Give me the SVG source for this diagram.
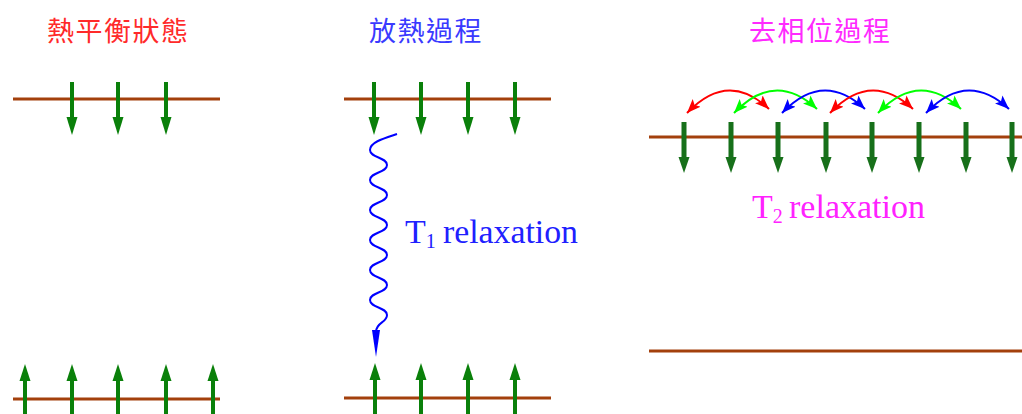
<svg xmlns="http://www.w3.org/2000/svg" width="1022" height="414" viewBox="0 0 1022 414">
<style>
.title{font-family:"Noto Sans CJK TC","Noto Sans CJK SC",sans-serif;font-size:27px;letter-spacing:1.5px}
.lbl{font-family:"Liberation Serif","Times New Roman",serif;font-size:34px}
.sub{font-size:20px}
.level{stroke:#a3400c;stroke-width:3;fill:none}
.g1{fill:#0a800a}
.g3{fill:#17701a}
.arc{fill:none;stroke-width:2}
</style>
<defs>
<g id="dn"><rect x="-2" y="0" width="4" height="36"/><polygon points="-5.5,35 5.5,35 0,53"/></g>
<g id="dn3"><rect x="-2.5" y="0" width="5" height="36"/><polygon points="-5.5,35 5.5,35 0,51"/></g>
<g id="up"><polygon points="0,0 -5.5,17 5.5,17"/><rect x="-2" y="16" width="4" height="40"/></g>
<marker id="mr" viewBox="0 0 14 11" refX="14" refY="5.5" markerWidth="14" markerHeight="11" markerUnits="userSpaceOnUse" orient="auto-start-reverse"><path d="M0,0 L14,5.5 L0,11 L3,5.5 Z" fill="#ff0000"/></marker>
<marker id="mg" viewBox="0 0 14 11" refX="14" refY="5.5" markerWidth="14" markerHeight="11" markerUnits="userSpaceOnUse" orient="auto-start-reverse"><path d="M0,0 L14,5.5 L0,11 L3,5.5 Z" fill="#00ff00"/></marker>
<marker id="mb" viewBox="0 0 14 11" refX="14" refY="5.5" markerWidth="14" markerHeight="11" markerUnits="userSpaceOnUse" orient="auto-start-reverse"><path d="M0,0 L14,5.5 L0,11 L3,5.5 Z" fill="#0000ff"/></marker>
</defs>

<g id="panel-equilibrium">
<text class="title" x="47" y="41" fill="#ff2a2a">熱平衡狀態</text>
<g id="eq-upper">
<line class="level" x1="13" y1="99" x2="220" y2="99"/>
<g class="g1"><use href="#dn" x="72" y="82"/><use href="#dn" x="118" y="82"/><use href="#dn" x="166" y="82"/></g>
</g>
<g id="eq-lower">
<line class="level" x1="13" y1="399" x2="220" y2="399"/>
<g class="g1"><use href="#up" x="25" y="364"/><use href="#up" x="72" y="364"/><use href="#up" x="118" y="364"/><use href="#up" x="166" y="364"/><use href="#up" x="213" y="364"/></g>
</g>
</g>

<g id="panel-release">
<text class="title" x="369" y="41" fill="#3a3aff">放熱過程</text>
<g id="rel-upper">
<line class="level" x1="344" y1="99" x2="551" y2="99"/>
<g class="g1"><use href="#dn" x="374" y="82"/><use href="#dn" x="421" y="82"/><use href="#dn" x="468" y="82"/><use href="#dn" x="515" y="82"/></g>
</g>
<g id="rel-lower">
<line class="level" x1="344" y1="398" x2="551" y2="398"/>
<g class="g1"><use href="#up" x="375" y="363"/><use href="#up" x="421" y="363"/><use href="#up" x="468" y="363"/><use href="#up" x="515" y="363"/></g>
</g>
<text class="lbl" fill="#2020ff" x="405" y="243">T<tspan class="sub" dy="5">1</tspan><tspan x="443" dy="-5" textLength="135" lengthAdjust="spacingAndGlyphs">relaxation</tspan></text>
</g>

<g id="panel-dephasing">
<text class="title" x="749" y="41" fill="#ff2aff">去相位過程</text>
<g id="deph-upper">
<line class="level" x1="649" y1="137" x2="1022" y2="137"/>
<g class="g3"><use href="#dn3" x="684" y="122"/><use href="#dn3" x="731" y="122"/><use href="#dn3" x="778" y="122"/><use href="#dn3" x="826" y="122"/><use href="#dn3" x="872" y="122"/><use href="#dn3" x="919" y="122"/><use href="#dn3" x="966" y="122"/><use href="#dn3" x="1012" y="122"/></g>
</g>
<g id="deph-lower">
<line class="level" x1="649" y1="351" x2="1022" y2="351"/>
</g>
<text class="lbl" fill="#ff22ff" x="752" y="218">T<tspan class="sub" dy="5">2</tspan><tspan x="789" dy="-5" textLength="136" lengthAdjust="spacingAndGlyphs">relaxation</tspan></text>
</g>

<g id="connectors">
<path d="M397,134 C385,138 370,142 370,150 C370,158 387,157 387,165 C387,173 370,172 370,180 C370,188 387,187 387,195 C387,203 370,202 370,210 C370,218 387,217 387,225 C387,233 370,232 370,240 C370,248 387,247 387,255 C387,263 370,262 370,270 C370,278 387,277 387,285 C387,293 370,292 370,300 C370,308 387,307 387,315 C387,323 376,322 376,332" fill="none" stroke="#0000ff" stroke-width="2"/>
<polygon points="372,330 380,330 376,357" fill="#0000ff"/>
<path class="arc" stroke="#ff0000" marker-start="url(#mr)" marker-end="url(#mr)" d="M687,113 Q728,70 769,109"/>
<path class="arc" stroke="#00ff00" marker-start="url(#mg)" marker-end="url(#mg)" d="M734,113 Q775,70 817,109"/>
<path class="arc" stroke="#0000ff" marker-start="url(#mb)" marker-end="url(#mb)" d="M782,113 Q823,70 865,109"/>
<path class="arc" stroke="#ff0000" marker-start="url(#mr)" marker-end="url(#mr)" d="M830,113 Q871,70 913,109"/>
<path class="arc" stroke="#00ff00" marker-start="url(#mg)" marker-end="url(#mg)" d="M878,113 Q919,70 961,109"/>
<path class="arc" stroke="#0000ff" marker-start="url(#mb)" marker-end="url(#mb)" d="M926,113 Q967,70 1009,109"/>
</g>
</svg>
